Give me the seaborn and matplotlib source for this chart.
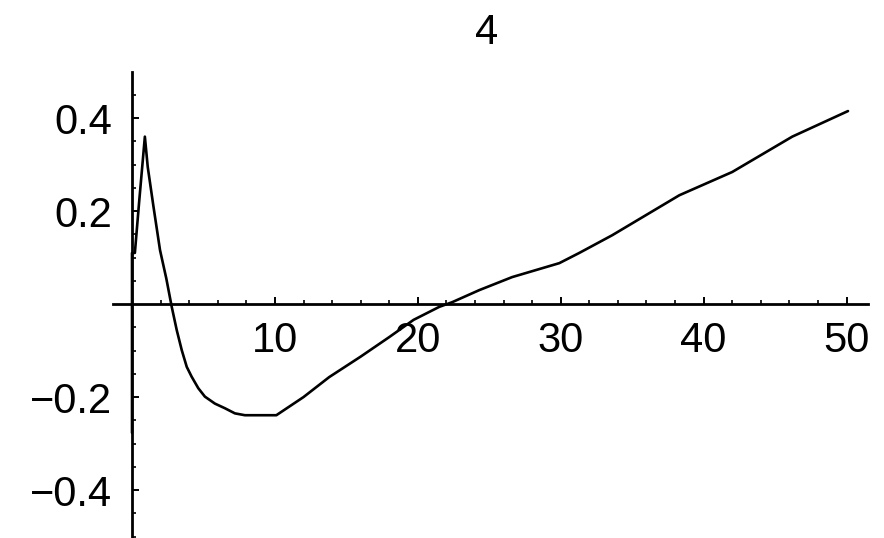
import numpy as np
import pandas as pd
import matplotlib
matplotlib.use("Agg")
import matplotlib.pyplot as plt
from matplotlib.ticker import FixedLocator
import seaborn as sns

# Curve samples
x_vals = [0.0, 0.0, 0.2, 0.5, 0.9, 1.1, 1.5, 1.96, 2.4, 2.78, 3.13, 3.48,
          3.83, 4.17, 4.64, 5.10, 5.80, 6.50, 7.20, 7.90, 10.1, 12.0, 13.8,
          16.0, 18.0, 19.7, 21.5, 22.4, 24.3, 26.6, 29.9, 31.3, 33.6, 38.3,
          42.0, 46.2, 50.1]
y_vals = [-0.277, 0.11, 0.11, 0.22, 0.36, 0.295, 0.21, 0.116, 0.055, -0.006,
          -0.056, -0.099, -0.135, -0.156, -0.181, -0.199, -0.214, -0.224,
          -0.235, -0.239, -0.239, -0.20, -0.157, -0.113, -0.071, -0.034,
          -0.006, 0.004, 0.03, 0.058, 0.088, 0.11, 0.148, 0.234, 0.284, 0.36,
          0.415]

x_major = [10, 20, 30, 40, 50]
x_major_labels = ["10", "20", "30", "40", "50"]
y_major = [-0.4, -0.2, 0.2, 0.4]
y_major_labels = ["\u22120.4", "\u22120.2", "0.2", "0.4"]
title_text = "4"

sns.set_theme(style="white")
plt.rcParams["font.family"] = ["Liberation Sans", "DejaVu Sans"]

W, H = 884, 538
fig = plt.figure(figsize=(W / 100, H / 100), dpi=100)
ax = fig.add_axes([113 / W, 0.0, 755 / W, (538 - 72) / H])

df = pd.DataFrame({"x": x_vals, "y": y_vals})
sns.lineplot(data=df, x="x", y="y", ax=ax, color="black", linewidth=1.9,
             sort=False, estimator=None)

ax.set_xlim(-1.33, 51.5)
ax.set_ylim(-0.503, 0.499)

# Axes crossing at the origin
for side in ("top", "right"):
    ax.spines[side].set_visible(False)
for side in ("left", "bottom"):
    ax.spines[side].set_position(("data", 0))
    ax.spines[side].set_color("black")
    ax.spines[side].set_linewidth(2.0)

ax.xaxis.set_major_locator(FixedLocator(x_major))
ax.set_xticklabels(x_major_labels)
ax.yaxis.set_major_locator(FixedLocator(y_major))
ax.set_yticklabels(y_major_labels)

x_minor = [v for v in range(2, 51, 2) if v % 10 != 0]
y_minor = [round(v, 2) for v in np.arange(-0.5, 0.51, 0.05)
           if abs(round(v, 2)) > 1e-9 and round(v, 2) not in y_major]
ax.xaxis.set_minor_locator(FixedLocator(x_minor))
ax.yaxis.set_minor_locator(FixedLocator(y_minor))

ax.tick_params(axis="both", which="both", bottom=True, left=True,
               top=False, right=False)
ax.tick_params(axis="both", which="major", direction="in", length=5,
               width=1.4, color="black", labelsize=30, labelcolor="black")
ax.tick_params(axis="both", which="minor", direction="in", length=3.2,
               width=1.2, color="black")
ax.tick_params(axis="x", which="major", pad=12)
ax.tick_params(axis="y", which="major", pad=14)

ax.set_xlabel("")
ax.set_ylabel("")
ax.set_facecolor("white")
ax.grid(False)

fig.text(487 / W, 1 - 33 / H, title_text, ha="center", va="center",
         fontsize=30, color="black")

fig.savefig("out.png", dpi=100, facecolor="white")
